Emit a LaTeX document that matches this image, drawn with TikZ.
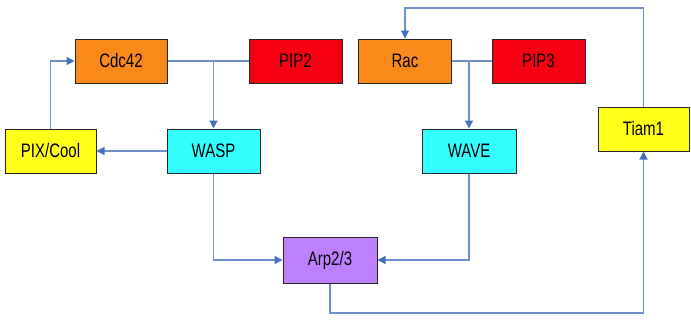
\documentclass[tikz,border=0pt]{standalone}
\usepackage{fontspec}
\setmainfont{Liberation Sans}
\usetikzlibrary{arrows.meta}
\definecolor{orng}{HTML}{F8891A}
\definecolor{rd}{HTML}{F70014}
\definecolor{cyn}{HTML}{33FFFF}
\definecolor{yel}{HTML}{FFFF1A}
\definecolor{prp}{HTML}{BF80FF}
\definecolor{linec}{HTML}{6F8FCB}
\definecolor{arrc}{HTML}{4470C4}
\newcommand{\tall}[1]{\scalebox{1}[1.3]{#1}}
\begin{document}
\begin{tikzpicture}[x=1pt,y=-1pt,
  box/.style={draw=black!85,line width=1pt,minimum width=92pt,minimum height=44pt,inner sep=0pt,
    font=\fontsize{15}{18}\selectfont},
  conn/.style={draw=linec,line width=1.3pt},
  arr/.style={conn,-{Triangle[length=8pt,width=8pt,color=arrc]}}]
\useasboundingbox (0,0) rectangle (691,327);
\node[box,fill=orng] (cdc) at (121,61) {\tall{Cdc42}};
\node[box,fill=rd,minimum width=93pt] (pip2) at (295.5,61) {\tall{PIP2}};
\node[box,fill=orng,minimum width=93pt] (rac) at (405,61) {\tall{Rac}};
\node[box,fill=rd,minimum width=93pt] (pip3) at (538.5,61) {\tall{PIP3}};
\node[box,fill=yel,minimum width=91pt] (pix) at (50.5,151) {\tall{PIX/Cool}};
\node[box,fill=cyn,minimum width=93pt] (wasp) at (213.5,151) {\tall{WASP}};
\node[box,fill=cyn,minimum width=94pt] (wave) at (469,151) {\tall{WAVE}};
\node[box,fill=yel,minimum width=91pt] (tiam) at (643.5,129) {\tall{Tiam1}};
\node[box,fill=prp,minimum width=94pt,minimum height=46pt] (arp) at (330,260) {\tall{Arp2/3}};
\coordinate (j1) at (213.5,61);
\coordinate (j2) at (469,61);
\coordinate (top) at (643.5,8);
\coordinate (bot) at (330,313);
\draw[conn] (cdc.east) -- (pip2.west);
\draw[arr] (j1) -- (wasp.north);
\draw[conn] (rac.east) -- (pip3.west);
\draw[arr] (j2) -- (wave.north);
\draw[arr] (pix.north) |- (cdc.west);
\draw[arr] (wasp.west) -- (pix.east);
\draw[arr] (wasp.south) |- (arp.west);
\draw[arr] (wave.south) |- (arp.east);
\draw[arr] (arp.south) -- (bot) -| (tiam.south);
\draw[arr] (tiam.north) -- (top) -| (rac.north);
\end{tikzpicture}
\end{document}
